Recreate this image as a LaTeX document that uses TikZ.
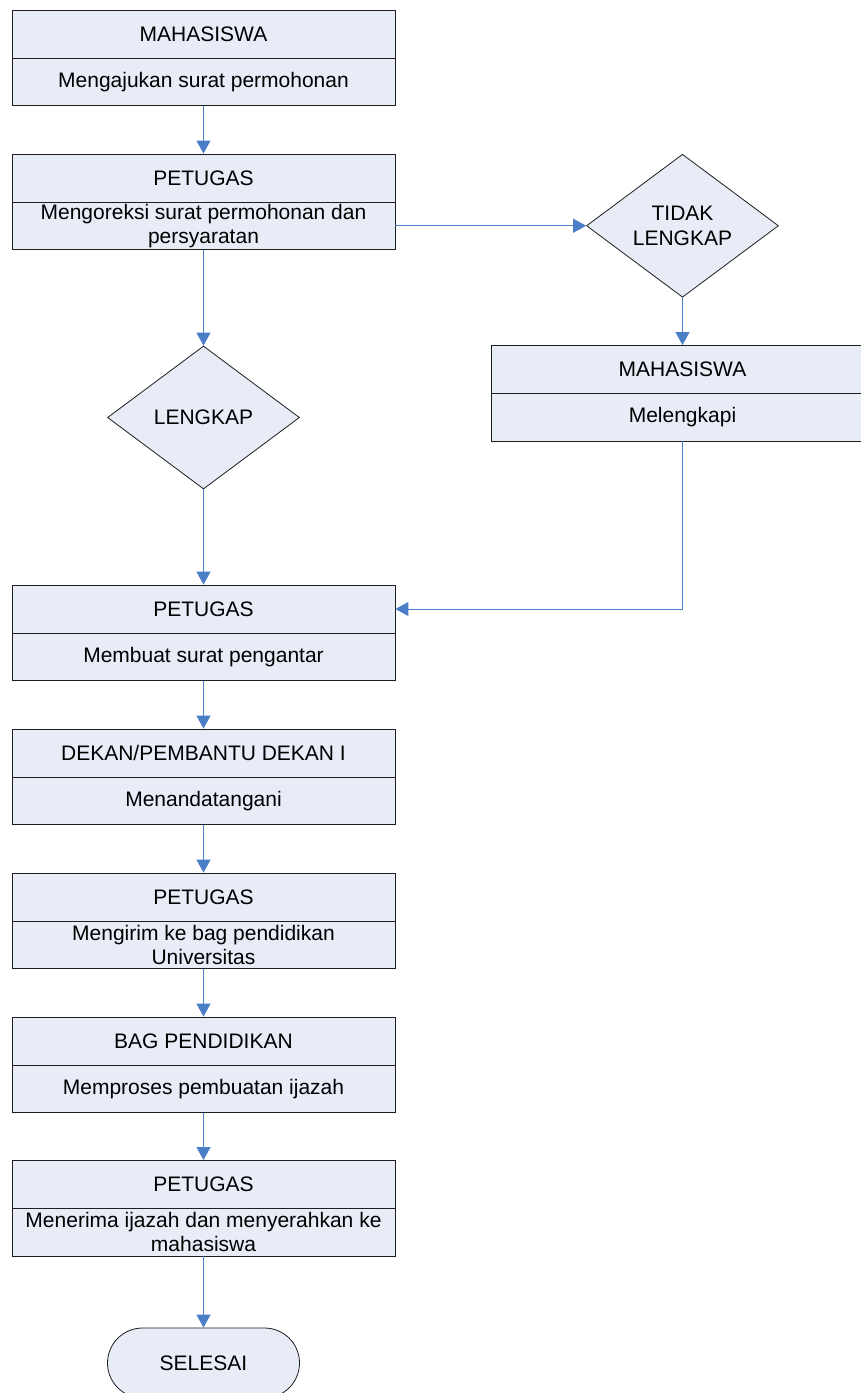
\documentclass[tikz,border=0pt]{standalone}
\usepackage{fontspec}
\setmainfont{Liberation Sans}
\usetikzlibrary{arrows.meta,shapes.geometric}
\definecolor{boxfill}{RGB}{231,236,246}
\definecolor{flowblue}{RGB}{74,126,199}
\definecolor{boxline}{RGB}{30,30,30}
\begin{document}
\begin{tikzpicture}[x=1pt,y=1pt,
  font=\fontsize{21}{25}\selectfont,
  hdr/.style={draw=boxline,line width=0.9pt,fill=boxfill,minimum width=383pt,minimum height=48pt,inner sep=0pt,anchor=center},
  bdy/.style={draw=boxline,line width=0.9pt,fill=boxfill,minimum width=383pt,minimum height=47.5pt,inner sep=0pt,align=center,anchor=center},
  decision/.style={draw=boxline,line width=0.8pt,fill=boxfill,diamond,minimum width=192pt,minimum height=143pt,inner sep=0pt,align=center},
  terminal/.style={draw=boxline,line width=0.8pt,fill=boxfill,rectangle,rounded corners=35pt,minimum width=192pt,minimum height=70pt,inner sep=0pt},
  flow/.style={draw=flowblue,line width=1pt,-{Triangle[width=14pt,length=13pt]}}
]
\useasboundingbox (0,0) rectangle (861,-1393);
\fill[white] (0,0) rectangle (861,-1393);

% box 1
\node[hdr] (h1) at (203.5,-34) {MAHASISWA};
\node[bdy] (b1) at (203.5,-81.75) {Mengajukan surat permohonan};
% box 2
\node[hdr] (h2) at (203.5,-178) {PETUGAS};
\node[bdy] (b2) at (203.5,-225.75) {Mengoreksi surat permohonan dan\\[-1pt]persyaratan};
% decision tidak lengkap
\node[decision] (td) at (682.5,-225.75) {TIDAK\\LENGKAP};
% right box
\node[hdr] (rh) at (682.5,-369.5) {MAHASISWA};
\node[bdy] (rb) at (682.5,-417.25) {Melengkapi};
% decision lengkap
\node[decision] (ld) at (203.5,-417.5) {LENGKAP};
% box 3
\node[hdr] (h3) at (203.5,-609) {PETUGAS};
\node[bdy] (b3) at (203.5,-656.75) {Membuat surat pengantar};
% box 4
\node[hdr] (h4) at (203.5,-753) {DEKAN/PEMBANTU DEKAN I};
\node[bdy] (b4) at (203.5,-800.75) {Menandatangani};
% box 5
\node[hdr] (h5) at (203.5,-897) {PETUGAS};
\node[bdy] (b5) at (203.5,-944.75) {Mengirim ke bag pendidikan\\[-1pt]Universitas};
% box 6
\node[hdr] (h6) at (203.5,-1041) {BAG PENDIDIKAN};
\node[bdy] (b6) at (203.5,-1088.75) {Memproses pembuatan ijazah};
% box 7
\node[hdr] (h7) at (203.5,-1184.5) {PETUGAS};
\node[bdy] (b7) at (203.5,-1232.25) {Menerima ijazah dan menyerahkan ke\\[-1pt]mahasiswa};
% terminal
\node[terminal] (end) at (203.5,-1363) {SELESAI};

% connectors
\draw[flow] (b1.south) -- (h2.north);
\draw[flow] (b2.east) -- (td.west);
\draw[flow] (td.south) -- (rh.north);
\draw[flow] (b2.south) -- (ld.north);
\draw[flow] (ld.south) -- (h3.north);
\draw[flow] (rb.south) |- (h3.east);
\draw[flow] (b3.south) -- (h4.north);
\draw[flow] (b4.south) -- (h5.north);
\draw[flow] (b5.south) -- (h6.north);
\draw[flow] (b6.south) -- (h7.north);
\draw[flow] (b7.south) -- (end.north);
\end{tikzpicture}
\end{document}
